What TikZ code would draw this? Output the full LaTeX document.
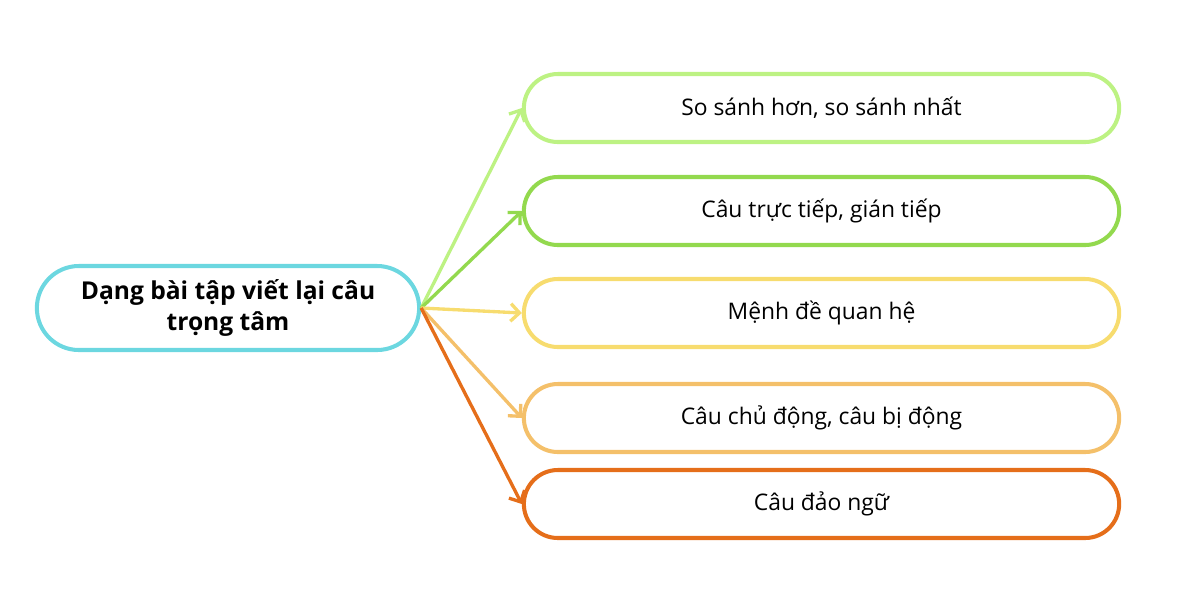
\documentclass[tikz,border=0pt]{standalone}
\usepackage{fontspec}
\setmainfont{Open Sans}
\usetikzlibrary{shapes,arrows.meta,positioning}
\usepackage{xcolor}
\definecolor{capcyan}{HTML}{6CD7E0}
\definecolor{capA}{HTML}{BDF283}
\definecolor{capB}{HTML}{93D94E}
\definecolor{capC}{HTML}{F7DC6F}
\definecolor{capD}{HTML}{F4C06A}
\definecolor{capE}{HTML}{E56E1A}

\begin{document}
\begin{tikzpicture}[
	goc/.style={draw=capcyan, line width=2.3pt, rounded rectangle, minimum width=7.88cm, minimum height=1.68cm, align=center, font=\fontsize{14}{18}\selectfont\bfseries},
	nhanh/.style={draw=#1, line width=2.3pt, rounded rectangle, minimum width=12.14cm, minimum height=1.36cm, font=\fontsize{13}{15}\selectfont},
	mui/.style={-{Straight Barb[length=5pt,width=10pt]}, draw=#1, line width=1.9pt}
	]
		\useasboundingbox (0,0) rectangle (24,-12);
		\def\bx{16.43}
		\node[goc] (goc) at (4.56,-6.16) {Dạng bài tập viết lại câu\\trọng tâm};
		% cac nhanh
		\node[nhanh=capA] (n1) at (\bx,-2.16) {So sánh hơn, so sánh nhất};
		\node[nhanh=capB] (n2) at (\bx,-4.22) {Câu trực tiếp, gián tiếp};
		\node[nhanh=capC] (n3) at (\bx,-6.26) {Mệnh đề quan hệ};
		\node[nhanh=capD] (n4) at (\bx,-8.36) {Câu chủ động, câu bị động};
		\node[nhanh=capE] (n5) at (\bx,-10.08) {Câu đảo ngữ};
		% mui ten
		\foreach \i/\c in {1/capA,2/capB,3/capC,4/capD,5/capE}
		\draw[mui=\c] (goc.east) -- (n\i.west);
\end{tikzpicture}
\end{document}
